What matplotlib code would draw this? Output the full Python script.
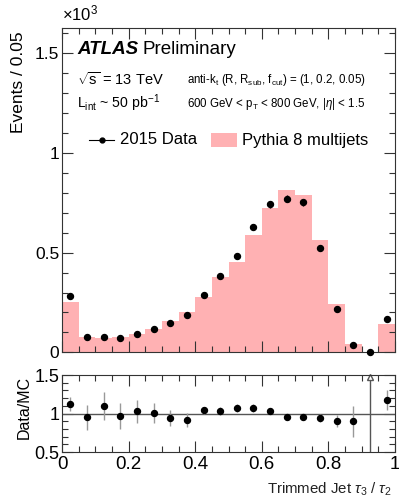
import numpy as np
import matplotlib
matplotlib.use("Agg")
import matplotlib.pyplot as plt
from matplotlib.ticker import MultipleLocator
from matplotlib.patches import Rectangle
from matplotlib.lines import Line2D

plt.rcParams['font.family'] = ['Liberation Sans', 'DejaVu Sans']
plt.rcParams['mathtext.fontset'] = 'custom'
plt.rcParams['mathtext.rm'] = 'Liberation Sans'
plt.rcParams['mathtext.it'] = 'Liberation Sans:italic'

# ---- data (in units of 10^3 events) ----
bin_edges = np.linspace(0, 1, 21)
mc_values = [0.253, 0.078, 0.070, 0.075, 0.093, 0.117, 0.157, 0.203, 0.278, 0.377,
             0.455, 0.588, 0.722, 0.815, 0.788, 0.562, 0.242, 0.042, 0.0, 0.142]
data_values = [0.280, 0.075, 0.077, 0.072, 0.093, 0.115, 0.147, 0.185, 0.287, 0.385,
               0.482, 0.628, 0.743, 0.770, 0.752, 0.523, 0.215, 0.035, 0.002, 0.165]
data_errors = [0.010, 0.006, 0.006, 0.006, 0.007, 0.007, 0.008, 0.009, 0.011, 0.012,
               0.014, 0.016, 0.018, 0.018, 0.018, 0.015, 0.010, 0.004, 0.002, 0.008]
ratio_values = [1.12, 0.95, 1.10, 0.97, 1.03, 1.01, 0.94, 0.92, 1.04, 1.03,
                1.07, 1.07, 1.03, 0.95, 0.96, 0.94, 0.90, 0.90, np.nan, 1.17]
ratio_errors = [0.09, 0.16, 0.18, 0.17, 0.15, 0.13, 0.10, 0.09, 0.05, 0.05,
                0.05, 0.05, 0.03, 0.02, 0.02, 0.05, 0.08, 0.20, 0.0, 0.13]
ratio_overflow = [False] * 18 + [True, False]

centers = 0.5 * (bin_edges[:-1] + bin_edges[1:])
W, H = 399, 498
fig = plt.figure(figsize=(W / 100, H / 100), dpi=100)

def ax_rect(x0, y0, x1, y1):
    return [x0 / W, 1 - y1 / H, (x1 - x0) / W, (y1 - y0) / H]

ax = fig.add_axes(ax_rect(62, 28, 395, 352.3))
rax = fig.add_axes(ax_rect(62, 375, 395, 452))

pink = '#ffb1b3'
ax.stairs(mc_values, bin_edges, fill=True, color=pink, linewidth=0)
ax.errorbar(centers, data_values, yerr=data_errors, fmt='o', color='black',
            markersize=4.3, elinewidth=1, capsize=0, clip_on=False, zorder=3)
ax.set_xlim(0, 1)
ax.set_ylim(0, 1.627)

for a, ls in ((ax, 12.5), (rax, 13)):
    a.tick_params(which='both', direction='in', top=True, right=True, labelsize=ls,
                  width=0.8, color='#333333')
    a.tick_params(which='major', length=8)
    a.tick_params(which='minor', length=4)
    a.xaxis.set_major_locator(MultipleLocator(0.2))
    a.xaxis.set_minor_locator(MultipleLocator(0.05))
    for s in a.spines.values():
        s.set_linewidth(0.8)
        s.set_color('#333333')

ax.yaxis.set_major_locator(MultipleLocator(0.5))
ax.yaxis.set_minor_locator(MultipleLocator(0.1))
ax.set_yticks([0, 0.5, 1, 1.5])
ax.set_yticklabels(['0', '0.5', '1', '1.5'])
ax.tick_params(axis='x', labelbottom=False)
ax.tick_params(axis='y', pad=2)

# ratio panel
rax.set_xlim(0, 1)
rax.set_ylim(0.5, 1.5)
rax.axhline(1.0, color='#555555', linewidth=1)
rax.errorbar(centers, ratio_values, yerr=ratio_errors, fmt='o', color='black',
             ecolor='#999999', markersize=4.3, elinewidth=1, capsize=0, zorder=3)
for c, ov in zip(centers, ratio_overflow):
    if ov:
        rax.plot([c, c], [0.5, 1.48], color='#555555', linewidth=1)
        rax.plot(c, 1.48, marker='^', markersize=5, markerfacecolor='white',
                 markeredgecolor='#555555', clip_on=False)
rax.yaxis.set_major_locator(MultipleLocator(0.5))
rax.yaxis.set_minor_locator(MultipleLocator(0.1))
rax.set_yticks([0.5, 1, 1.5])
rax.set_yticklabels(['0.5', '1', '1.5'])
rax.set_xticks([0, 0.2, 0.4, 0.6, 0.8, 1])
rax.set_xticklabels(['0', '0.2', '0.4', '0.6', '0.8', '1'])
rax.tick_params(axis='x', labelsize=13.5, pad=3)
rax.tick_params(axis='y', pad=2)

# labels
fig.text(62 / W, 1 - 13 / H, r'$\times$10$^{3}$', fontsize=12, va='center', ha='left')
fig.text(19 / W, 1 - 31 / H, 'Events / 0.05', rotation=90, fontsize=12.5, va='top', ha='center')
fig.text(24 / W, 1 - 376 / H, 'Data/MC', rotation=90, fontsize=11.5, va='top', ha='center')
fig.text(392 / W, 1 - 489 / H, r'Trimmed Jet $\tau_{3}$ / $\tau_{2}$', fontsize=10.8,
         va='center', ha='right', color='#222222')

def t(x, y, s, **kw):
    fig.text(x / W, 1 - y / H, s, va='center', ha='left', **kw)

t(77, 49, 'ATLAS', fontsize=13.5, fontweight='bold', fontstyle='italic')
t(142, 49, 'Preliminary', fontsize=13.5)
t(77, 79, r'$\sqrt{\mathrm{s}}$ = 13 TeV', fontsize=10.5)
t(187, 80, r'anti-k$_{\mathrm{t}}$ (R, R$_{\mathrm{sub}}$, f$_{\mathrm{cut}}$) = (1, 0.2, 0.05)', fontsize=8.3)
t(77, 103, r'L$_{\mathrm{int}}$ ~ 50 pb$^{\mathrm{-1}}$', fontsize=10.2)
t(187, 104, r'600 GeV < p$_{\mathrm{T}}$ < 800 GeV, |$\eta$| < 1.5', fontsize=8.3)

# legend
fig.add_artist(Line2D([89 / W, 114 / W], [1 - 140 / H, 1 - 140 / H], color='black', linewidth=0.8,
                      transform=fig.transFigure))
fig.add_artist(Line2D([102 / W], [1 - 140 / H], marker='o', markersize=3.5, color='black',
                      transform=fig.transFigure))
t(120, 140, '2015 Data', fontsize=12)
fig.add_artist(Rectangle((211 / W, 1 - 147 / H), 26 / W, 14 / H, facecolor=pink,
                         edgecolor='none', transform=fig.transFigure))
t(242, 140, 'Pythia 8 multijets', fontsize=12)

fig.savefig('out.png', dpi=100)
